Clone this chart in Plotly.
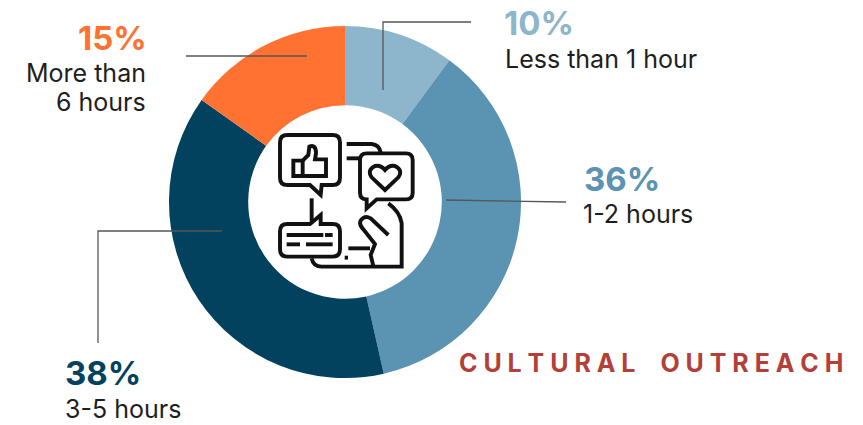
import plotly.graph_objects as go

W, H = 863, 425

# Survey shares
categories = ["Less than 1 hour", "1-2 hours", "3-5 hours", "More than 6 hours"]
shares = [10, 36, 38, 15]
slice_colors = ["#8DB5CB", "#5B93B3", "#02425F", "#FF7231"]
share_labels = ["10%", "36%", "38%", "15%"]
FONT = "Inter"
CX, CY, R = 345, 202, 176


def fx(x):
    return x / W


def fy(y):
    return 1 - y / H


def icon_path(cmds):
    # Icon outlines are sketched on a local grid, 3 units per pixel, from (260, 120)
    out = []
    for c in cmds:
        if isinstance(c, str):
            out.append(c)
        else:
            out.append(f"{fx(260 + c[0] / 3):.5f},{fy(120 + c[1] / 3):.5f}")
    return " ".join(out)


def stroke(cmds, width=3.9):
    return dict(type="path", xref="paper", yref="paper", path=icon_path(cmds),
                line=dict(color="#111111", width=width), layer="above")


def leader(points):
    d = "M" + " L".join(f"{fx(x):.5f},{fy(y):.5f}" for x, y in points)
    return dict(type="path", xref="paper", yref="paper", path=d,
                line=dict(color="#565656", width=1.3), layer="above")


fig = go.Figure(go.Pie(
    labels=categories, values=shares, hole=0.55, sort=False, direction="clockwise",
    rotation=0, textinfo="none", hoverinfo="label+value",
    marker=dict(colors=slice_colors, line=dict(width=0)),
    domain=dict(x=[fx(CX - R), fx(CX + R)], y=[fy(CY + R), fy(CY - R)]),
    showlegend=False,
))

icons = [
    # Thumbs-up bubble
    stroke(["M", (82, 45), "L", (218, 45), "Q", (240, 45), (240, 67), "L", (240, 173), "Q", (240, 195), (218, 195),
            "L", (185, 195), "L", (182, 225), "L", (150, 195), "L", (82, 195), "Q", (60, 195), (60, 173),
            "L", (60, 67), "Q", (60, 45), (82, 45), "Z"]),
    stroke(["M", (100, 122), "L", (128, 122), "L", (128, 168), "L", (100, 168), "Z"]),
    stroke(["M", (128, 122), "L", (145, 105), "L", (148, 80), "Q", (168, 72), (168, 100), "L", (165, 118),
            "L", (198, 118), "L", (198, 168), "L", (128, 168)]),
    # Heart bubble and its connector
    stroke(["M", (320, 100), "L", (438, 100), "Q", (458, 100), (458, 120), "L", (458, 218), "Q", (458, 238), (438, 238),
            "L", (350, 238), "L", (320, 265), "L", (320, 238), "Q", (300, 238), (300, 218), "L", (300, 120),
            "Q", (300, 100), (320, 100), "Z"]),
    stroke(["M", (375, 210), "L", (335, 172), "Q", (320, 150), (345, 138), "Q", (362, 134), (375, 150),
            "Q", (388, 134), (405, 138), "Q", (430, 150), (415, 172), "Z"]),
    stroke(["M", (260, 72), "L", (335, 72), "Q", (358, 74), (362, 98)]),
    stroke(["M", (260, 115), "L", (300, 115)]),
    # Chat bubble with text lines
    stroke(["M", (155, 235), "L", (155, 305)]),
    stroke(["M", (82, 312), "L", (150, 312), "L", (182, 285), "L", (182, 312), "L", (218, 312), "Q", (240, 312), (240, 334),
            "L", (240, 388), "Q", (240, 410), (218, 410), "L", (82, 410), "Q", (60, 410), (60, 388),
            "L", (60, 334), "Q", (60, 312), (82, 312), "Z"]),
    stroke(["M", (80, 345), "L", (190, 345)]),
    stroke(["M", (195, 345), "L", (218, 345)]),
    stroke(["M", (80, 373), "L", (120, 373)]),
    stroke(["M", (138, 373), "L", (218, 373)]),
    # Phone edge and pointing hand
    stroke(["M", (155, 415), "Q", (160, 440), (185, 440), "L", (425, 440), "L", (425, 310), "Q", (420, 275), (385, 250)]),
    stroke(["M", (265, 385), "L", (330, 385)]),
    stroke(["M", (385, 345), "L", (332, 295), "Q", (315, 285), (303, 300), "Q", (295, 312), (310, 328),
            "L", (345, 372), "L", (332, 405), "L", (340, 438)]),
    stroke(["M", (254, 413), "L", (264, 413)]),
]

leaders = [
    leader([(186, 56), (307, 56)]),
    leader([(383, 90), (383, 22), (471, 22)]),
    leader([(446, 200), (566, 202)]),
    leader([(222, 231), (98, 231), (98, 343)]),
]


def note(x, y, text, size, color="#1E1E1E", anchor="left", bold=False, valign="middle"):
    if bold:
        text = f"<b>{text}</b>"
    return dict(x=fx(x), y=fy(y), xref="paper", yref="paper", text=text, showarrow=False,
                xanchor=anchor, yanchor=valign, align=anchor, borderpad=0,
                font=dict(family=FONT, size=size, color=color))


LETTER_GAP = "\u2009\u200a"
# The bottom-left label sits close to the page edge, so its two lines share one text block
lower_left = (f'<span style="font-size:33px;color:{slice_colors[2]}"><b>{share_labels[2]}</b></span>'
              f"<br>{categories[2]}")
annotations = [
    note(503, 23, share_labels[0], 33, slice_colors[0], bold=True),
    note(504, 59, categories[0], 25),
    note(583, 179, share_labels[1], 33, slice_colors[1], bold=True),
    note(582, 214, categories[1], 25),
    note(64, 425, lower_left, 25, valign="bottom"),
    note(148, 38, share_labels[3], 33, slice_colors[3], anchor="right", bold=True),
    note(147, 73, "More than", 25, anchor="right"),
    note(147, 102, "6 hours", 25, anchor="right"),
    note(458, 363, LETTER_GAP.join("CULTURAL") + "\u2003" + LETTER_GAP.join("OUTREACH"), 25, "#B43F38", bold=True),
]

fig.update_layout(
    width=W, height=H, margin=dict(l=0, r=0, t=0, b=0),
    paper_bgcolor="white", plot_bgcolor="white",
    shapes=leaders + icons, annotations=annotations,
)
fig.write_html("out.html", config=dict(displayModeBar=False))
